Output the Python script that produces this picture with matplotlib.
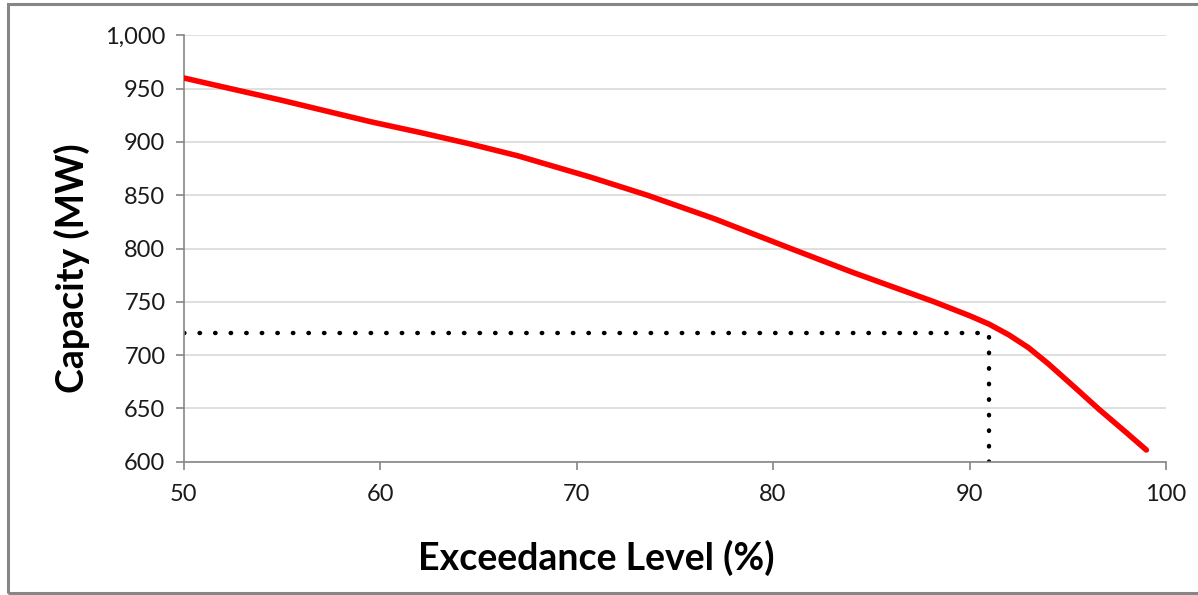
import matplotlib.pyplot as plt
from matplotlib.patches import Rectangle
from matplotlib.ticker import FuncFormatter
import numpy as np

plt.rcParams['font.family'] = ['Lato', 'DejaVu Sans']

# Exceedance curve
exceedance = [50, 55, 59.5, 62, 64.6, 67, 70.7, 73.6, 77, 80.9, 84, 88.2, 90, 91, 92, 93, 94, 95.4, 96.6, 98, 99]
capacity = [960, 939, 919, 909, 898, 887, 867, 850, 828, 800, 778, 750, 737, 729, 719, 707, 692, 669, 649, 627, 611]

# P91 marker (dotted guide lines)
marker_x = 91
marker_y = 721

fig = plt.figure(figsize=(11.98, 5.95), dpi=100)
ax = fig.add_axes([0.1532, 0.224, 0.8201, 0.7167])

ax.plot(exceedance, capacity, color='#ff0000', linewidth=4, solid_capstyle='round',
        solid_joinstyle='round', zorder=3)
ax.plot([50, marker_x], [marker_y, marker_y], color='black', linestyle=(0, (0.1, 3.4)),
        linewidth=3.2, dash_capstyle='round', zorder=2)
ax.plot([marker_x, marker_x], [600, marker_y], color='black', linestyle=(0, (0.1, 3.4)),
        linewidth=3.2, dash_capstyle='round', zorder=2)

ax.set_xlim(50, 100)
ax.set_ylim(600, 1000)
ax.set_xticks(np.arange(50, 101, 10))
ax.set_yticks(np.arange(600, 1001, 50))
ax.yaxis.set_major_formatter(FuncFormatter(lambda v, p: f'{int(v):,}'))

ax.grid(axis='y', color='#d9d9d9', linewidth=1.2)
ax.set_axisbelow(True)
for side in ['top', 'right']:
    ax.spines[side].set_visible(False)
for side in ['left', 'bottom']:
    ax.spines[side].set_color('#868686')
    ax.spines[side].set_linewidth(1.2)
ax.tick_params(axis='both', colors='#868686', length=6, width=1.2, labelsize=17,
               labelcolor='#1a1a1a')
ax.tick_params(axis='y', pad=7)
ax.tick_params(axis='x', pad=10)

fig.text(72 / 1198, 1 - 268 / 595, 'Capacity (MW)', rotation=90, ha='center', va='center',
         fontsize=27, fontweight='bold', color='black')
fig.text(596 / 1198, 1 - 558 / 595, 'Exceedance Level (%)', ha='center', va='center',
         fontsize=27, fontweight='bold', color='black')

# grey frame round the chart
fig.patches.append(Rectangle((8 / 1198, 2 / 595), 1.2, 1 - 6 / 595, transform=fig.transFigure,
                             fill=False, edgecolor='#868686', linewidth=2.2))

fig.savefig('out.png', dpi=100)
